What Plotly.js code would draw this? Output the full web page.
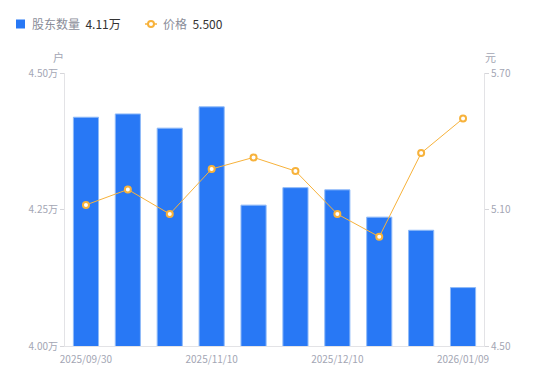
<!DOCTYPE html>
<html>
<head>
<meta charset="utf-8">
<script src="https://cdn.plot.ly/plotly-3.0.1.min.js"></script>
<style>html,body{margin:0;padding:0;background:#fff;}#chart{width:550px;height:381px;}</style>
</head>
<body>
<div id="chart"></div>
<script>
var dates = ["2025/09/30","2025/10/10","2025/10/20","2025/11/10","2025/11/20","2025/11/30","2025/12/10","2025/12/20","2025/12/31","2026/01/09"];
var holders = [4.419, 4.425, 4.399, 4.438, 4.258, 4.290, 4.286, 4.236, 4.212, 4.107];
var prices = [5.120, 5.188, 5.080, 5.278, 5.329, 5.269, 5.080, 4.980, 5.348, 5.500];
var xTicks = ["2025/09/30","2025/11/10","2025/12/10","2026/01/09"];
var yLeftTicks = [4.00, 4.25, 4.50];
var yRightTicks = [4.50, 5.10, 5.70];

var L = 65, R = 484, T = 73, B = 346;
function px(x){ return (x - L) / (R - L); }
function py(y){ return (B - y) / (B - T); }

var blue = "#2878f5", orange = "#f7b23b";
var font = "Noto Sans CJK SC, sans-serif";

var traces = [
  {type:"bar", x:dates, y:holders, marker:{color:blue, line:{color:"#8fbaf8", width:1}}, width:0.6, showlegend:false, hoverinfo:"none"},
  {type:"scatter", mode:"lines+markers", x:dates, y:prices, yaxis:"y2",
   line:{color:orange, width:1}, marker:{size:6, color:"#ffffff", line:{color:orange, width:2}},
   showlegend:false, hoverinfo:"none"}
];

var lastH = holders[holders.length-1].toFixed(2) + "万";
var lastP = prices[prices.length-1].toFixed(3);

var layout = {
  width:550, height:381,
  margin:{l:L, r:550-R, t:T, b:381-B},
  paper_bgcolor:"#fff", plot_bgcolor:"#fff",
  font:{family:font, color:"#a3a6b4", size:10},
  bargap:0.4,
  xaxis:{type:"category", range:[-0.5, dates.length-0.5], tickvals:xTicks, ticktext:xTicks,
         showline:true, linecolor:"#e3e3e6", linewidth:1, showgrid:false, ticks:"outside", ticklen:4, tickcolor:"rgba(0,0,0,0)", zeroline:false,
         tickfont:{size:10, color:"#a3a6b4"}},
  yaxis:{range:[4.0, 4.5], tickvals:yLeftTicks, ticktext:yLeftTicks.map(function(v){return v.toFixed(2)+"万";}),
         showline:true, linecolor:"#e3e3e6", showgrid:false, zeroline:false, ticks:"outside", ticklen:4, tickcolor:"#d6d6da",
         tickfont:{size:10, color:"#a3a6b4"}},
  yaxis2:{overlaying:"y", side:"right", range:[4.5, 5.7], tickvals:yRightTicks, ticktext:yRightTicks.map(function(v){return v.toFixed(2);}),
         showline:true, linecolor:"#e3e3e6", showgrid:false, zeroline:false, ticks:"outside", ticklen:4, tickcolor:"#d6d6da",
         tickfont:{size:10, color:"#a3a6b4"}},
  shapes:[
    {type:"rect", xref:"paper", yref:"paper", x0:px(16), x1:px(25), y0:py(28.5), y1:py(19.5), fillcolor:blue, line:{width:0}},
    {type:"line", xref:"paper", yref:"paper", x0:px(145), x1:px(157), y0:py(24), y1:py(24), line:{color:orange, width:1.5}},
    {type:"circle", xref:"paper", yref:"paper", x0:px(148), x1:px(154), y0:py(27), y1:py(21), fillcolor:"#fff", line:{color:orange, width:2}}
  ],
  annotations:[
    {xref:"paper", yref:"paper", x:px(30), y:py(24), xanchor:"left", yanchor:"middle", showarrow:false,
     text:'<span style="color:#8a8d99">股东数量</span>  <span style="color:#333333">'+lastH+'</span>', font:{size:12, family:font}},
    {xref:"paper", yref:"paper", x:px(161), y:py(24), xanchor:"left", yanchor:"middle", showarrow:false,
     text:'<span style="color:#8a8d99">价格</span>  <span style="color:#333333">'+lastP+'</span>', font:{size:12, family:font}},
    {xref:"paper", yref:"paper", x:px(58), y:py(57), xanchor:"center", yanchor:"middle", showarrow:false,
     text:"户", font:{size:11, color:"#a3a6b4", family:font}},
    {xref:"paper", yref:"paper", x:px(490), y:py(57), xanchor:"center", yanchor:"middle", showarrow:false,
     text:"元", font:{size:11, color:"#a3a6b4", family:font}}
  ]
};

Plotly.newPlot("chart", traces, layout, {displayModeBar:false, staticPlot:true});
</script>
</body>
</html>
